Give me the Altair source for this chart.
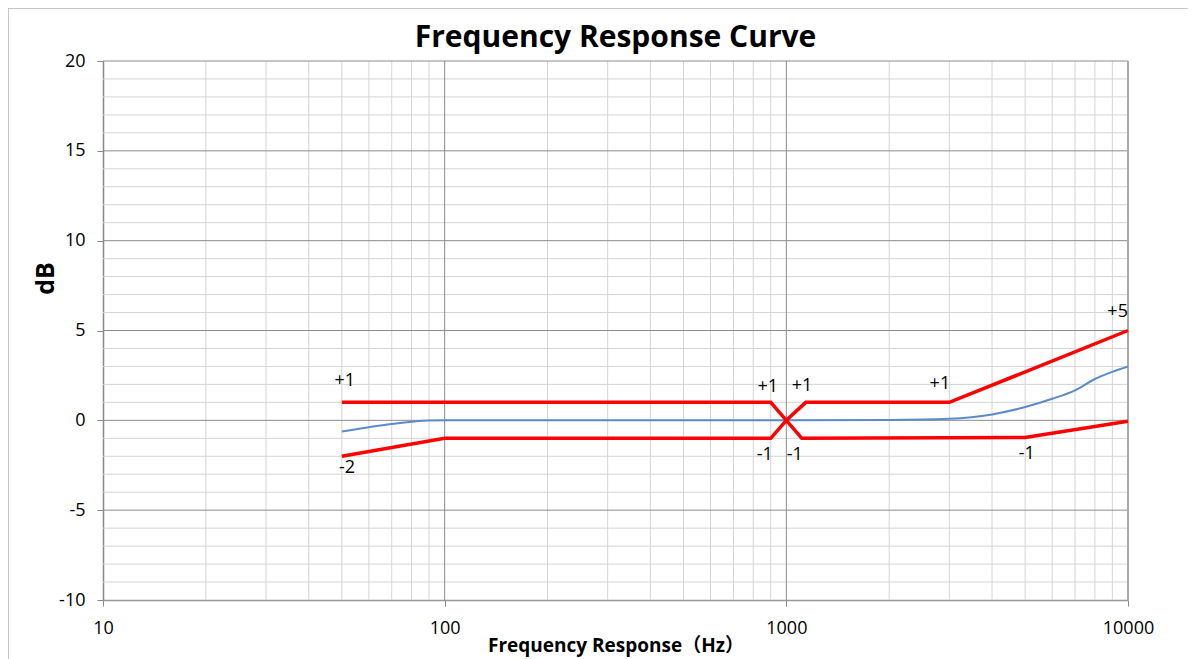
import altair as alt
import pandas as pd

# ---- data ----
upper_f = [50, 900, 1000, 1140, 3000, 10000]
upper_db = [1, 1, 0, 1, 1, 5]
lower_f = [50, 100, 900, 1000, 1110, 5000, 10000]
lower_db = [-2, -1, -1, 0, -1, -0.95, -0.05]
resp_f = [50, 60, 70, 80, 90, 100, 200, 500, 1000, 2000, 3000, 4000, 5000, 6000, 7000, 8000, 9000, 10000]
resp_db = [-0.62, -0.38, -0.2, -0.08, -0.01, 0, 0, 0, 0, 0.02, 0.09, 0.33, 0.74, 1.2, 1.67, 2.3, 2.7, 3.0]
label_text = ["+1", "-2", "+1", "-1", "+1", "-1", "+1", "-1", "+5"]
label_f = [51, 51.8, 883, 865, 1111, 1059, 2815, 5058, 9325]
label_db = [2.17, -2.67, 1.85, -1.94, 1.9, -1.94, 2.0, -1.9, 6.05]
x_ticks = [10, 100, 1000, 10000]
y_ticks = [-10, -5, 0, 5, 10, 15, 20]
x_minor = [m * d for d in (10, 100, 1000) for m in range(2, 10)]
x_major = [100, 1000]
y_minor = [v for v in range(-9, 20) if v % 5 != 0]
y_major = [-5, 0, 5, 10, 15, 20]
title_text = ["Frequency Response Curve"]

FONT = "Open Sans, Noto Sans CJK SC"

xs = alt.Scale(type="log", domain=[10, 10000], nice=False)
ys = alt.Scale(domain=[-10, 20], nice=False, zero=False)

up = pd.DataFrame({"f": upper_f, "db": upper_db})
lo = pd.DataFrame({"f": lower_f, "db": lower_db})
rs = pd.DataFrame({"f": resp_f, "db": resp_db})
lb = pd.DataFrame({"f": label_f, "db": label_db, "t": label_text})

vminor = alt.Chart(pd.DataFrame({"f": x_minor})).mark_rule(color="#d4d4d4", strokeWidth=1).encode(
    x=alt.X("f:Q", scale=xs))
vmajor = alt.Chart(pd.DataFrame({"f": x_major})).mark_rule(color="#8c8c8c", strokeWidth=1).encode(
    x=alt.X("f:Q", scale=xs))
hminor = alt.Chart(pd.DataFrame({"db": y_minor})).mark_rule(color="#d4d4d4", strokeWidth=1).encode(
    y=alt.Y("db:Q", scale=ys))
hmajor = alt.Chart(pd.DataFrame({"db": y_major})).mark_rule(color="#8c8c8c", strokeWidth=1).encode(
    y=alt.Y("db:Q", scale=ys))
right_border = alt.Chart(pd.DataFrame({"f": [10000]})).mark_rule(color="#aaaaaa", strokeWidth=2).encode(
    x=alt.X("f:Q", scale=xs))

frame_left = alt.Chart(pd.DataFrame({"a": [0]})).mark_rule(color="#b4b4b4", strokeWidth=1.5).encode(
    x=alt.value(-95), y=alt.value(-53), y2=alt.value(600))
frame_top = alt.Chart(pd.DataFrame({"a": [0]})).mark_rule(color="#b4b4b4", strokeWidth=1.5).encode(
    x=alt.value(-95), x2=alt.value(1100), y=alt.value(-53))

title = alt.Chart(pd.DataFrame({"t": title_text})).mark_text(
    font=FONT, fontSize=30, fontWeight="bold", color="#000", align="center", baseline="alphabetic"
).encode(x=alt.value(512.5), y=alt.value(-14), text="t:N")

base_x = alt.X(
    "f:Q", scale=xs,
    axis=alt.Axis(values=x_ticks, labelExpr="datum.value + ''", grid=False, title="Frequency Response（Hz）",
                  titleFont=FONT, titleFontSize=19, titleFontWeight="bold", titleColor="#000",
                  titleY=45, titleBaseline="middle", labelFlush=False, labelOverlap=False,
                  labelFont=FONT, labelFontSize=18, labelColor="#000", labelPadding=13,
                  tickSize=6, tickColor="#888", domainColor="#999", domainWidth=1.5))
base_y = alt.Y(
    "db:Q", scale=ys,
    axis=alt.Axis(values=y_ticks, labelExpr="datum.value + ''", grid=False, title="dB",
                  titleFont=FONT, titleFontSize=25, titleFontWeight="bold", titleColor="#000",
                  titleAngle=270, titleX=-58, titleY=217, titleBaseline="middle", titleAlign="center",
                  labelFlush=False, labelOverlap=False,
                  labelFont=FONT, labelFontSize=18, labelColor="#000", labelPadding=12,
                  tickSize=6, tickColor="#888", domainColor="#888", domainWidth=1.5))

resp = alt.Chart(rs).mark_line(color="#5b8bcb", strokeWidth=2, interpolate="monotone").encode(
    x=base_x, y=base_y)
upper = alt.Chart(up).mark_line(color="#ff0000", strokeWidth=3.5).encode(
    x=alt.X("f:Q", scale=xs), y=alt.Y("db:Q", scale=ys))
lower = alt.Chart(lo).mark_line(color="#ff0000", strokeWidth=3.5).encode(
    x=alt.X("f:Q", scale=xs), y=alt.Y("db:Q", scale=ys))
labels = alt.Chart(lb).mark_text(font=FONT, fontSize=18, color="#000", baseline="middle", align="center").encode(
    x=alt.X("f:Q", scale=xs), y=alt.Y("db:Q", scale=ys), text="t:N")

chart = alt.layer(
    vminor, hminor, vmajor, hmajor, right_border, frame_left, frame_top, resp, upper, lower, labels, title
).properties(
    width=1025, height=539,
    autosize=alt.AutoSizeParams(type="none"),
    padding={"left": 95, "top": 53, "right": 60, "bottom": 59},
).configure_view(stroke=None)

chart.save("out.html", embed_options={"renderer": "svg", "actions": False})
